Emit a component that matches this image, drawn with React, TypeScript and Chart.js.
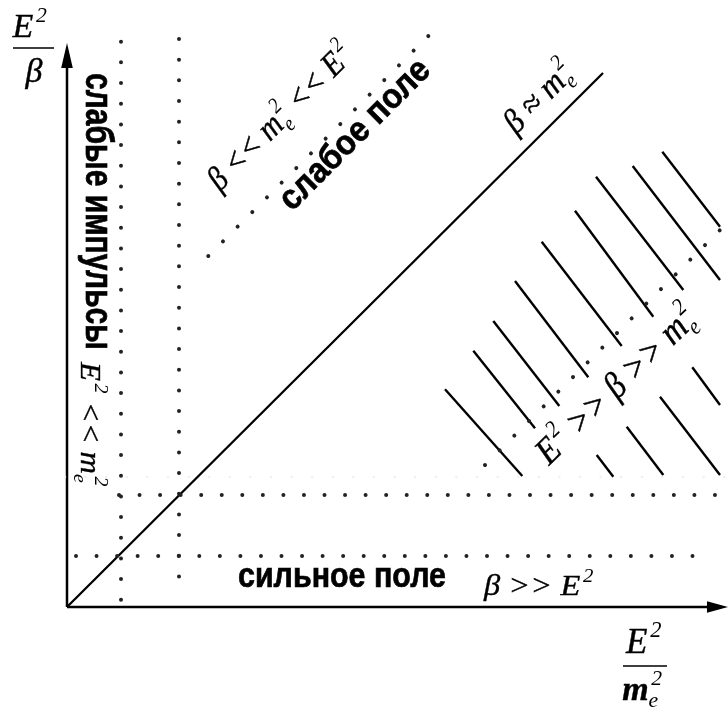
import { useEffect, useRef } from 'react';
import { Chart, registerables } from 'chart.js';

Chart.register(...registerables);

// Diagram units: origin at the corner of the axes, 1 unit ≈ 1 px, y pointing up.
const xRange = [-67, 661];
const yRange = [-105, 607];

const axisX = [[0, 0], [648, 0]];
const axisY = [[0, 0], [0, 552]];
const axisTips = { x: 661, y: 564 };

// boundary β ≈ m_e²
const boundaryLine = [[0, 0], [536, 534]];

// dotted boundaries: [x1, y1, x2, y2, dot spacing]
const dottedLines = [
  [54, 565.3, 54, 7.2, 20.67],
  [112, 568, 112, 10, 20.67],
  [9, 51, 646, 51, 20.55],
  [52, 112, 648, 112, 20.55],
  [141.3, 351, 361.3, 571, 20.74],
  [418, 142, 652.7, 376.7, 20.74],
];
const faintDottedLines = [[-2, 130, 661, 130, 20.6]];

// hatching of the region E² >> β >> m_e²: [x1, y1, x2, y2]
const hatchLines = [
  [595.3, 455.3, 653, 380.3],
  [565.7, 441, 653, 327],
  [529, 430.3, 616.3, 317],
  [508, 396.3, 586.3, 290.3],
  [474.7, 365.3, 554.7, 261],
  [448, 326, 521.3, 229.7],
  [426.3, 286, 492.3, 201],
  [406.3, 256.3, 468, 178.7],
  [378, 217.7, 455.3, 131],
  [529.7, 152, 546.3, 130.3],
  [559.7, 180.3, 596.3, 132],
  [593, 210.3, 653, 132],
  [625.3, 239.7, 653, 202],
];

const regionLabels = ['слабые импульсы', 'слабое поле', 'сильное поле'];

type Part = { t: string; sup?: string; sub?: string; bold?: boolean };

const formulaWeakPulse: Part[] = [{ t: 'E', sup: '2' }, { t: ' << m', sub: 'e', sup: '2' }];
const formulaWeakField: Part[] = [{ t: 'β << m', sub: 'e', sup: '2' }, { t: ' << E', sup: '2' }];
const formulaBoundary: Part[] = [{ t: 'β ≈ m', sub: 'e', sup: '2' }];
const formulaHatched: Part[] = [{ t: 'E', sup: '2' }, { t: ' >> β >> m', sub: 'e', sup: '2' }];
const formulaStrong: Part[] = [{ t: 'β >> E', sup: '2' }];
const yLabelTop: Part[] = [{ t: 'E', sup: '2' }];
const yLabelBottom: Part[] = [{ t: 'β' }];
const xLabelTop: Part[] = [{ t: 'E', sup: '2' }];
const xLabelBottom: Part[] = [{ t: 'm', sub: 'e', sup: '2', bold: true }];

const serif = (size: number, bold = false) =>
  `italic ${bold ? 'bold ' : ''}${size}px "Liberation Serif", "Times New Roman", serif`;
const sans = (size: number) => `bold ${size}px "Liberation Sans", Arial, sans-serif`;

const SCRIPT = 0.64;

function measureRun(ctx: CanvasRenderingContext2D, parts: Part[], size: number) {
  let w = 0;
  for (const p of parts) {
    ctx.font = serif(size, p.bold);
    w += ctx.measureText(p.t).width;
    if (p.sup || p.sub) {
      ctx.font = serif(size * SCRIPT);
      const ws = p.sup ? ctx.measureText(p.sup).width + size * 0.08 : 0;
      const wb = p.sub ? ctx.measureText(p.sub).width : 0;
      w += Math.max(ws, wb) + size * 0.02;
    }
  }
  return w;
}

function drawRun(
  ctx: CanvasRenderingContext2D,
  parts: Part[],
  x: number,
  y: number,
  angle: number,
  size: number,
  fit?: number,
  center = false
) {
  const natural = measureRun(ctx, parts, size);
  const sx = fit ? fit / natural : 1;
  ctx.save();
  ctx.translate(x, y);
  ctx.rotate((angle * Math.PI) / 180);
  ctx.scale(sx, 1);
  ctx.textBaseline = 'alphabetic';
  ctx.textAlign = 'left';
  ctx.fillStyle = '#000';
  ctx.strokeStyle = '#000';
  ctx.lineWidth = size * 0.012;
  let cx = center ? -natural / 2 : 0;
  for (const p of parts) {
    ctx.font = serif(size, p.bold);
    ctx.fillText(p.t, cx, 0);
    ctx.strokeText(p.t, cx, 0);
    cx += ctx.measureText(p.t).width;
    if (p.sup || p.sub) {
      ctx.font = serif(size * SCRIPT);
      let ws = 0;
      let wb = 0;
      if (p.sup) {
        ctx.fillText(p.sup, cx + size * 0.08, -size * 0.45);
        ws = ctx.measureText(p.sup).width + size * 0.08;
      }
      if (p.sub) {
        ctx.fillText(p.sub, cx, size * 0.22);
        wb = ctx.measureText(p.sub).width;
      }
      cx += Math.max(ws, wb) + size * 0.02;
    }
  }
  ctx.restore();
}

function drawSans(
  ctx: CanvasRenderingContext2D,
  text: string,
  x: number,
  y: number,
  angle: number,
  size: number,
  fit: number
) {
  ctx.save();
  ctx.font = sans(size);
  const w = ctx.measureText(text).width;
  ctx.translate(x, y);
  ctx.rotate((angle * Math.PI) / 180);
  ctx.scale(fit / w, 1);
  ctx.textBaseline = 'alphabetic';
  ctx.textAlign = 'left';
  ctx.fillStyle = '#000';
  ctx.strokeStyle = '#000';
  ctx.lineWidth = 0.7;
  ctx.fillText(text, 0, 0);
  ctx.strokeText(text, 0, 0);
  ctx.restore();
}

const diagramPlugin = {
  id: 'diagram',
  afterDatasetsDraw(chart: any) {
    const ctx: CanvasRenderingContext2D = chart.ctx;
    const sx = chart.scales.x;
    const sy = chart.scales.y;
    const X = (v: number) => sx.getPixelForValue(v);
    const Y = (v: number) => sy.getPixelForValue(v);

    ctx.save();
    ctx.fillStyle = '#000';
    // arrow heads
    ctx.beginPath();
    ctx.moveTo(X(0), Y(axisTips.y));
    ctx.lineTo(X(0) - 5.8, Y(axisTips.y - 25));
    ctx.lineTo(X(0) + 5.8, Y(axisTips.y - 25));
    ctx.closePath();
    ctx.fill();
    ctx.beginPath();
    ctx.moveTo(X(axisTips.x), Y(0));
    ctx.lineTo(X(axisTips.x - 21), Y(0) - 5.8);
    ctx.lineTo(X(axisTips.x - 21), Y(0) + 5.8);
    ctx.closePath();
    ctx.fill();

    // fraction bars
    ctx.strokeStyle = '#000';
    ctx.lineWidth = 1.6;
    ctx.beginPath();
    ctx.moveTo(X(-54), Y(559));
    ctx.lineTo(X(-13), Y(559));
    ctx.moveTo(X(556), Y(-59));
    ctx.lineTo(X(600), Y(-59));
    ctx.stroke();
    ctx.restore();

    // axis labels
    drawRun(ctx, yLabelTop, X(-37), Y(570), 0, 34, undefined, true);
    drawRun(ctx, yLabelBottom, X(-33), Y(525), 0, 34, undefined, true);
    drawRun(ctx, xLabelTop, X(577), Y(-46), 0, 35, undefined, true);
    drawRun(ctx, xLabelBottom, X(575.5), Y(-93), 0, 34, undefined, true);

    // region labels
    drawSans(ctx, regionLabels[0], X(19), Y(534), 90, 39, 277);
    drawRun(ctx, formulaWeakPulse, X(14), Y(245), 90, 30, 125);
    drawRun(ctx, formulaWeakField, X(153), Y(415), -45, 34, 192);
    drawSans(ctx, regionLabels[1], X(225), Y(395), -45, 35, 198);
    drawRun(ctx, formulaBoundary, X(449), Y(472), -45, 34, 86);
    drawRun(ctx, formulaHatched, X(482), Y(141), -44, 37, 210);
    drawSans(ctx, regionLabels[2], X(171), Y(20), 0, 35, 208);
    drawRun(ctx, formulaStrong, X(417), Y(12), 0, 30, 110);
  },
};

const seg = (x1: number, y1: number, x2: number, y2: number) => [
  { x: x1, y: y1 },
  { x: x2, y: y2 },
];

export default function App() {
  const ref = useRef<HTMLCanvasElement>(null);

  useEffect(() => {
    if (!ref.current) return;
    const datasets: any[] = [];
    const solid = (data: any[], width: number) => ({
      data,
      showLine: true,
      borderColor: '#000',
      borderWidth: width,
      pointRadius: 0,
      fill: false,
      borderCapStyle: 'butt',
    });
    faintDottedLines.forEach(([x1, y1, x2, y2, s]) =>
      datasets.push({
        data: seg(x1, y1, x2, y2),
        showLine: true,
        borderColor: '#f0f0f0',
        borderWidth: 2.5,
        pointRadius: 0,
        fill: false,
        borderCapStyle: 'round',
        borderDash: [0.001, s - 0.001],
      })
    );
    dottedLines.forEach(([x1, y1, x2, y2, s]) =>
      datasets.push({
        data: seg(x1, y1, x2, y2),
        showLine: true,
        borderColor: '#222',
        borderWidth: 4,
        pointRadius: 0,
        fill: false,
        borderCapStyle: 'round',
        borderDash: [0.001, s - 0.001],
      })
    );
    hatchLines.forEach(([x1, y1, x2, y2]) => datasets.push(solid(seg(x1, y1, x2, y2), 2.4)));
    datasets.push(solid(seg(boundaryLine[0][0], boundaryLine[0][1], boundaryLine[1][0], boundaryLine[1][1]), 2.3));
    datasets.push(solid(seg(axisX[0][0], axisX[0][1], axisX[1][0], axisX[1][1]), 2.7));
    datasets.push(solid(seg(axisY[0][0], axisY[0][1], axisY[1][0], axisY[1][1]), 2.5));

    const chart = new Chart(ref.current, {
      type: 'scatter',
      data: { datasets },
      options: {
        animation: false,
        responsive: true,
        maintainAspectRatio: false,
        events: [],
        layout: { padding: 0 },
        plugins: { legend: { display: false }, tooltip: { enabled: false } },
        scales: {
          x: { type: 'linear', min: xRange[0], max: xRange[1], display: false },
          y: { type: 'linear', min: yRange[0], max: yRange[1], display: false },
        },
      } as any,
      plugins: [diagramPlugin],
    });
    return () => chart.destroy();
  }, []);

  return (
    <div style={{ position: 'absolute', left: 0, top: 0, width: 728, height: 712, background: '#fff' }}>
      <canvas ref={ref} />
    </div>
  );
}
